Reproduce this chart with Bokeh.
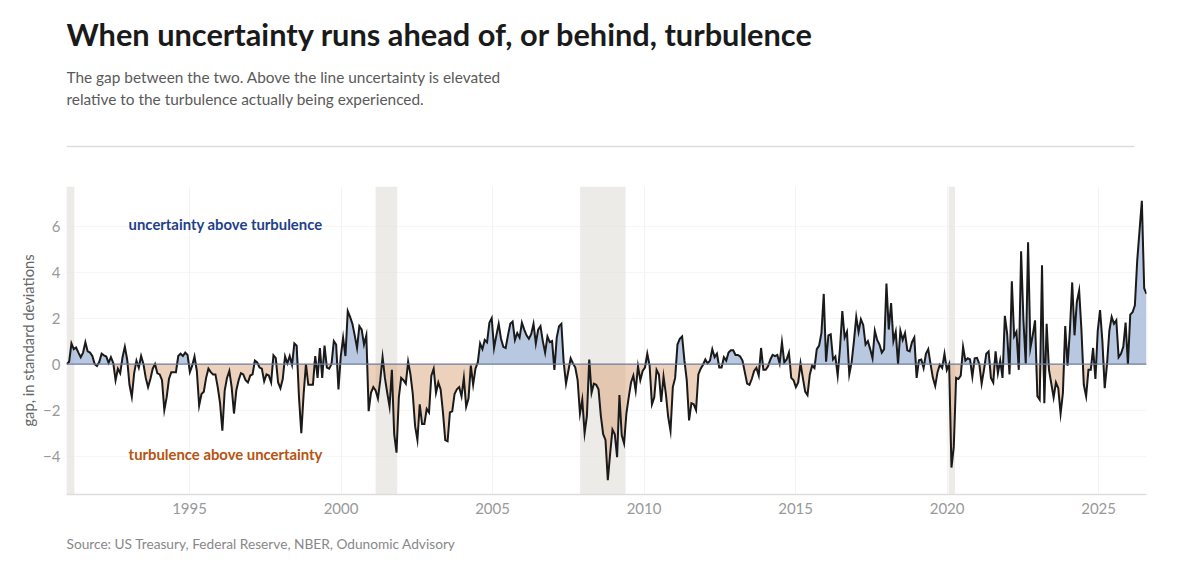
from bokeh.plotting import figure
from bokeh.layouts import column
from bokeh.models import Label, Range1d, BoxAnnotation, Span, FixedTicker, ColumnDataSource
from bokeh.embed import file_html
from bokeh.resources import INLINE
import numpy as np

TITLE = "When uncertainty runs ahead of, or behind, turbulence"
SUB1 = "The gap between the two. Above the line uncertainty is elevated"
SUB2 = "relative to the turbulence actually being experienced."
SOURCE = "Source: US Treasury, Federal Reserve, NBER, Odunomic Advisory"
LAB_UP = "uncertainty above turbulence"
LAB_DOWN = "turbulence above uncertainty"
YLAB = "gap, in standard deviations"

x_ticks = [1995, 2000, 2005, 2010, 2015, 2020, 2025]
y_ticks = [-4, -2, 0, 2, 4, 6]
start_year, end_year = 1990.95, 2026.58

recessions = [(1990.94, 1991.2), (2001.14, 2001.85), (2007.89, 2009.39), (2020.05, 2020.26)]

gap_a = [0.0,0.1,0.9,0.65,0.72,0.5,0.3,0.5,0.95,0.55,0.5,0.35,
 -0.0,-0.08,0.1,0.45,0.38,0.33,0.05,0.3,0.05,-0.7,-0.2,-0.4,0.3,0.75,0.2,-0.9,-1.42,-0.4,
 0.15,-0.15,0.35,0.0,-0.6,-1.0,-0.65,-0.2,0.0,-0.4,-0.45,-0.7,-2.0,-1.45,-0.65,-0.35,-0.35,-0.35,
 0.35,0.45,0.35,0.5,0.4,-0.35,-0.07,0.33,-0.3,-1.8,-1.3,-1.2,-0.6,-0.2,-0.35,-0.45,-0.45,-1.0,
 -1.7,-2.9,-1.15,-0.6,-0.3,-1.0,-2.15,-1.15,-0.7,-0.4,-0.45,-0.7,-0.8,-0.5,-0.45,0.15,0.07,-0.15,
 -0.2,-0.75,-0.45,-0.5,-0.8,0.38,0.26,-0.8,-1.05,-0.65,0.33,0.03,0.35,-0.03,0.9,0.8,-1.45,-3.0,
 -1.3,0.0,-0.9,-0.9,-0.9,0.35,-0.6,0.7,-0.6,0.8,-0.15,-0.2,-0.0,1.0,0.85,-1.1]
gap_b = [0.35,1.15,0.35,2.3,2.05,1.75,1.25,0.7,1.65,1.5,0.85,1.25,-2.05,-1.25,-1.0,-1.15,-1.5,-0.7,
 0.3,-0.6,-1.25,-1.85,-0.25,-3.05,-3.85,-1.45,-0.6,-0.7,-0.85,0.1,-0.45,-1.3,-2.7,-3.3,-1.75,-2.6,
 -2.6,-1.95,-2.1,-0.5,-0.2,-1.25,-0.8,-1.1,-2.1,-3.3,-3.35,-2.1,-2.05,-1.3,-1.1,-1.0,-1.4,-0.6,
 -1.85,-1.5,-0.07,-0.9,-0.2,0.07,0.9,0.65,1.05,0.95,1.8,2.0,0.7,1.25,1.75,1.1,0.75,0.7,1.25,1.75,
 1.85,1.05,1.35,1.15,1.8,1.5,1.25,1.1,1.3,1.75,0.9,1.5,1.65,1.0,0.5,1.2,0.95,1.0,-0.25,1.15,1.65,
 1.75,0.07,-0.85,-0.3,0.25,0.03,-0.15,-0.7,-2.15,-1.55,-3.0,-2.25,0.2,-1.25,-0.85,-0.9,-1.1,-2.25,
 -3.05,-3.3,-5.05]
gap_c = [-3.9,-2.85,-3.05,-4.05,-1.35,-3.1,-3.45,-2.15,-1.45,-0.8,-0.5,-1.15,-0.1,-0.7,-0.3,-0.15,
 0.45,-0.07,-1.75,-1.45,-0.25,-0.45,-1.65,-0.55,-1.3,-2.3,-2.9,-1.0,-0.6,0.85,1.1,1.2,0.15,-0.7,
 -2.45,-1.7,-1.75,-2.0,-0.45,-0.2,-0.03,0.2,0.03,0.15,0.65,0.3,0.45,-0.15,-0.15,0.3,0.15,0.5,0.6,
 0.6,0.4,0.4,0.33,0.15,-0.35,-0.85,-0.9,-0.65,-0.3,-0.17,-0.5,0.7,-0.25,-0.25,-0.1,0.2,0.4,0.35,
 0.4,0.03,0.95,0.07,0.2,0.5,-0.6,-0.7,-1.0,-0.8,0.03,-0.6,-1.2,-1.35,-0.45,-0.07,-0.17,0.65,0.8,
 1.35,3.05,0.1,1.25,1.3,0.2,0.33,-0.5,0.7,2.3,1.15,1.4,-0.45,0.07,1.0,2.05,1.4,1.95,1.7,0.85,1.0,
 0.65,0.25,1.45,1.05]
gap_d = [0.85,0.5,0.65,3.5,1.5,2.65,1.0,1.4,0.0,1.45,1.05,1.35,0.6,0.55,0.95,1.15,-0.6,0.17,0.2,
 -0.17,0.45,0.65,0.0,-0.6,-0.95,-0.35,-0.03,-0.17,0.45,-0.25,0.0,-4.5,-3.6,-0.6,-0.65,-0.5,0.75,
 0.15,0.25,0.2,-0.55,0.25,0.27,0.0,-0.85,-0.25,0.45,0.55,-0.6,-0.8,0.55,-0.4,0.15,-0.6,2.1,1.3,
 -0.45,3.6,1.2,1.4,-0.25,4.9,1.9,0.03,5.3,0.7,1.25,1.9,-1.4,-1.55,4.3,-1.7,1.75,-0.25,-0.85,-1.45,
 -0.8,-1.05,-2.15,-1.25,1.65,-0.07,1.45,3.55,1.25,2.7,3.2,1.45,-0.9,-1.4,-0.25,-0.25,0.7,-0.65,
 1.45,2.35,1.0,-1.05,0.0,1.45,2.05,1.75,1.9,0.3,0.45,0.75,1.8,0.0,2.15,2.25,2.55,4.5,5.8,7.1,3.3,3.05]

gap = np.array(gap_a + gap_b + gap_c + gap_d)
years = np.linspace(start_year, end_year, len(gap))
src = ColumnDataSource(dict(x=years, y=gap, zero=np.zeros(len(gap)),
                            up=np.maximum(gap, 0), down=np.minimum(gap, 0)))

WIDTH = 1184


def text_panel(height, y_top):
    f = figure(width=WIDTH, height=height, output_backend="svg", toolbar_location=None,
               x_range=Range1d(66, 1146), y_range=Range1d(y_top + height, y_top),
               min_border=0, outline_line_color=None, border_fill_color="white")
    f.axis.visible = False
    f.grid.visible = False
    return f


def put(f, text, x, y, size, color, style="normal"):
    f.add_layout(Label(x=x, y=y, text=text, text_font="Lato", text_font_size=size,
                       text_color=color, text_font_style=style, text_baseline="alphabetic"))


head = text_panel(186, 0)
put(head, TITLE, 66, 34, "30.75px", "#1a1a1a", "bold")
put(head, SUB1, 66, 76, "15.4px", "#5a5a5a")
put(head, SUB2, 66, 98, "15.4px", "#5a5a5a")
head.segment([66], [146], [1134], [146], line_color="#dddddd", line_width=1.5)

p = figure(width=WIDTH, height=338, output_backend="svg", toolbar_location=None,
           x_range=Range1d(1990.94, 2026.58), y_range=Range1d(-5.67, 7.72),
           min_border_left=66, min_border_right=38, min_border_top=0, min_border_bottom=30,
           outline_line_color=None, background_fill_color="white", border_fill_color="white")

for a, b in recessions:
    p.add_layout(BoxAnnotation(left=a, right=b, fill_color="#e3e1dc", fill_alpha=0.65,
                               line_color=None, level="underlay"))

p.varea("x", "zero", "up", source=src, fill_color="#9db3d4", fill_alpha=0.72)
p.varea("x", "zero", "down", source=src, fill_color="#dba67e", fill_alpha=0.52)
p.add_layout(Span(location=0, dimension="width", line_color="#6f7d9c", line_width=1.3))
p.line("x", "y", source=src, line_color="#1a1a1a", line_width=2, line_join="miter")

p.xaxis.ticker = FixedTicker(ticks=x_ticks)
p.yaxis.ticker = FixedTicker(ticks=y_ticks)
for ax in (p.xaxis, p.yaxis):
    ax.major_tick_line_color = None
    ax.minor_tick_line_color = None
    ax.major_tick_out = 0
    ax.major_tick_in = 0
    ax.major_label_text_font = "Lato"
    ax.major_label_text_font_size = "15px"
    ax.major_label_text_color = "#999999"
p.yaxis.axis_line_color = None
p.xaxis.axis_line_color = "#dddddd"
p.xaxis.axis_line_width = 1.5
p.xaxis.major_label_standoff = 8
p.yaxis.major_label_standoff = 6
p.yaxis.axis_label = YLAB
p.yaxis.axis_label_text_font = "Lato"
p.yaxis.axis_label_text_font_style = "normal"
p.yaxis.axis_label_text_font_size = "14.75px"
p.yaxis.axis_label_text_color = "#666666"
p.yaxis.axis_label_standoff = 3
p.xgrid.grid_line_color = "#f3f3f3"
p.ygrid.grid_line_color = "#f6f6f6"

p.add_layout(Label(x=1992.99, y=6.08, text=LAB_UP, text_font="Lato", text_font_size="14.85px",
                   text_font_style="bold", text_color="#1f3f8a", text_baseline="middle"))
p.add_layout(Label(x=1992.99, y=-3.92, text=LAB_DOWN, text_font="Lato", text_font_size="14.85px",
                   text_font_style="bold", text_color="#b5540f", text_baseline="middle"))

foot = text_panel(36, 524)
put(foot, SOURCE, 66, 543, "13.7px", "#888888")

page = column(head, p, foot, spacing=0)
open("out.html", "w").write(file_html(page, INLINE))
